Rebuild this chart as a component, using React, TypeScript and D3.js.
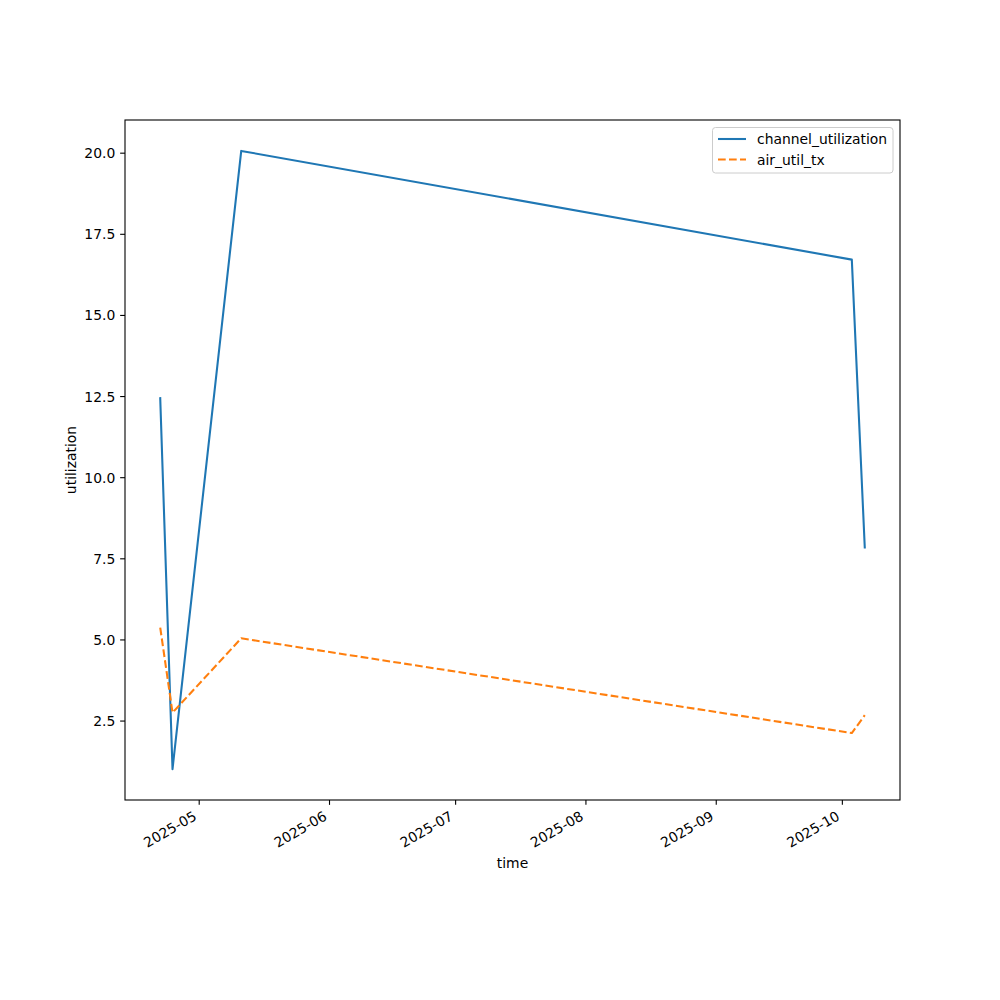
import React from "react";
import * as d3 from "d3";

const times: string[] = [
  "2025-04-21T17:30:00Z",
  "2025-04-24T15:40:00Z",
  "2025-05-11T00:00:00Z",
  "2025-10-03T06:00:00Z",
  "2025-10-06T08:00:00Z",
];
const channelUtilization: number[] = [12.45, 1.02, 20.07, 16.72, 7.85];
const airUtilTx: number[] = [5.38, 2.76, 5.05, 2.13, 2.68];
const xTickDates: string[] = [
  "2025-05-01T00:00:00Z",
  "2025-06-01T00:00:00Z",
  "2025-07-01T00:00:00Z",
  "2025-08-01T00:00:00Z",
  "2025-09-01T00:00:00Z",
  "2025-10-01T00:00:00Z",
];
const yTicks: number[] = [2.5, 5.0, 7.5, 10.0, 12.5, 15.0, 17.5, 20.0];
const seriesNames: string[] = ["channel_utilization", "air_util_tx"];
const seriesColors: string[] = ["#1f77b4", "#ff7f0e"];

const W = 1000;
const H = 1000;
const left = 125;
const right = 900;
const top = 120;
const bottom = 800;
const FONT = "DejaVu Sans, sans-serif";
const FS = 13.9;

export default function App() {
  const dates = times.map((t) => new Date(t));
  const tMin = d3.min(dates, (d) => d.getTime())!;
  const tMax = d3.max(dates, (d) => d.getTime())!;
  const tPad = (tMax - tMin) * 0.05;
  const x = d3
    .scaleUtc()
    .domain([new Date(tMin - tPad), new Date(tMax + tPad)])
    .range([left, right]);

  const allVals = [...channelUtilization, ...airUtilTx];
  const vMin = d3.min(allVals)!;
  const vMax = d3.max(allVals)!;
  const vPad = (vMax - vMin) * 0.05;
  const y = d3
    .scaleLinear()
    .domain([vMin - vPad, vMax + vPad])
    .range([bottom, top]);

  const line = d3
    .line<[Date, number]>()
    .x((d) => x(d[0]))
    .y((d) => y(d[1]));

  const series = [channelUtilization, airUtilTx].map((vals) =>
    dates.map((d, i) => [d, vals[i]] as [Date, number])
  );
  const fmt = d3.utcFormat("%Y-%m");
  const tickLen = 4.86;

  return (
    <svg
      width={W}
      height={H}
      style={{ display: "block", position: "absolute", left: 0, top: 0 }}
    >
      <rect x={0} y={0} width={W} height={H} fill="white" />
      {series.map((s, i) => (
        <path
          key={i}
          d={line(s) || ""}
          fill="none"
          stroke={seriesColors[i]}
          strokeWidth={2.08}
          strokeDasharray={i === 1 ? "7.7,3.3" : undefined}
          strokeLinejoin="round"
          strokeLinecap={i === 1 ? "butt" : "square"}
        />
      ))}
      <rect
        x={left}
        y={top}
        width={right - left}
        height={bottom - top}
        fill="none"
        stroke="black"
        strokeWidth={1.1}
      />
      {xTickDates.map((t, i) => {
        const xx = x(new Date(t));
        return (
          <g key={i}>
            <line x1={xx} x2={xx} y1={bottom} y2={bottom + tickLen} stroke="black" strokeWidth={1.1} />
            <text
              transform={`translate(${xx - 1.6},${bottom + 19}) rotate(-30)`}
              textAnchor="end"
              fontFamily={FONT}
              fontSize={FS}
              fill="black"
            >
              {fmt(new Date(t))}
            </text>
          </g>
        );
      })}
      {yTicks.map((v, i) => {
        const yy = y(v);
        return (
          <g key={i}>
            <line x1={left - tickLen} x2={left} y1={yy} y2={yy} stroke="black" strokeWidth={1.1} />
            <text
              x={left - 9.7}
              y={yy}
              dy="0.36em"
              textAnchor="end"
              fontFamily={FONT}
              fontSize={FS}
              fill="black"
            >
              {v.toFixed(1)}
            </text>
          </g>
        );
      })}
      <text
        x={(left + right) / 2}
        y={867.5}
        textAnchor="middle"
        fontFamily={FONT}
        fontSize={FS}
        fill="black"
      >
        time
      </text>
      <text
        transform={`translate(76,${(top + bottom) / 2}) rotate(-90)`}
        textAnchor="middle"
        fontFamily={FONT}
        fontSize={FS}
        fill="black"
      >
        utilization
      </text>
      <g>
        <rect
          x={712.5}
          y={127.5}
          width={180.5}
          height={45.5}
          rx={3}
          ry={3}
          fill="white"
          fillOpacity={0.8}
          stroke="#cccccc"
          strokeWidth={1}
        />
        {seriesNames.map((n, i) => {
          const yy = 139 + i * 20.5;
          return (
            <g key={i}>
              <line
                x1={718}
                x2={746}
                y1={yy}
                y2={yy}
                stroke={seriesColors[i]}
                strokeWidth={2.08}
                strokeDasharray={i === 1 ? "7.7,3.3" : undefined}
              />
              <text
                x={757}
                y={yy}
                dy="0.36em"
                fontFamily={FONT}
                fontSize={FS}
                fill="black"
              >
                {n}
              </text>
            </g>
          );
        })}
      </g>
    </svg>
  );
}
